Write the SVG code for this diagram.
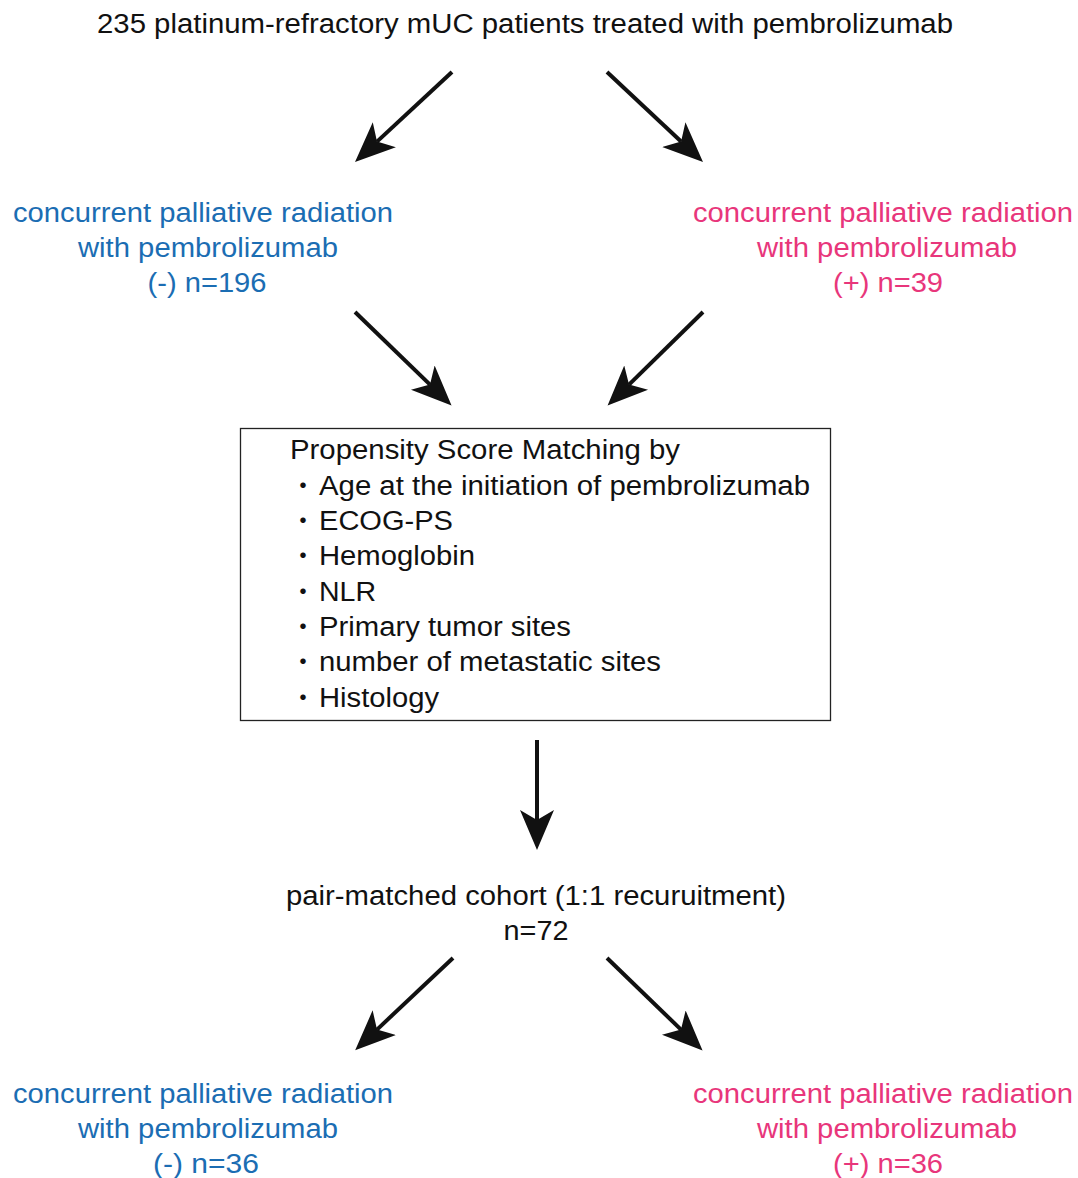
<svg xmlns="http://www.w3.org/2000/svg" width="1078" height="1178" viewBox="0 0 1078 1178">
  <style>
    text { font-family: "Liberation Sans", Arial, sans-serif; font-size: 27px; }
    .blk { fill: #111111; }
    .blue { fill: #1b6db3; text-anchor: middle; }
    .pink { fill: #e8367b; text-anchor: middle; }
    .ctr { text-anchor: middle; }
    .dot { font-family: "Noto Sans CJK JP", sans-serif; font-size: 26px; fill: #111111; }
    .conn { stroke: #111111; stroke-width: 4; fill: none; marker-end: url(#arrow); }
  </style>
  <defs>
    <marker id="arrow" markerUnits="userSpaceOnUse" markerWidth="42" markerHeight="36" viewBox="0 -18 42 36" refX="10" refY="0" orient="auto">
      <path d="M40,0 L0,-17 L10,0 L0,17 Z" fill="#111111"/>
    </marker>
  </defs>
  <rect width="1078" height="1178" fill="#ffffff"/>

  <g id="title">
    <text class="blk ctr" x="525" y="33" textLength="856" lengthAdjust="spacingAndGlyphs">235 platinum-refractory mUC patients treated with pembrolizumab</text>
  </g>

  <g id="no-radiation-196">
    <text class="blue" x="203" y="222" textLength="380" lengthAdjust="spacingAndGlyphs">concurrent palliative radiation</text>
    <text class="blue" x="208" y="257" textLength="260" lengthAdjust="spacingAndGlyphs">with pembrolizumab</text>
    <text class="blue" x="207" y="292" textLength="119" lengthAdjust="spacingAndGlyphs">(-) n=196</text>
  </g>

  <g id="radiation-39">
    <text class="pink" x="883" y="222" textLength="380" lengthAdjust="spacingAndGlyphs">concurrent palliative radiation</text>
    <text class="pink" x="887" y="257" textLength="260" lengthAdjust="spacingAndGlyphs">with pembrolizumab</text>
    <text class="pink" x="888" y="292" textLength="110" lengthAdjust="spacingAndGlyphs">(+) n=39</text>
  </g>

  <g id="psm-box">
    <rect x="240.5" y="428.5" width="590" height="292" fill="#ffffff" stroke="#222222" stroke-width="1.3"/>
    <text class="blk" x="290" y="459" textLength="390" lengthAdjust="spacingAndGlyphs">Propensity Score Matching by</text>
    <text class="dot" x="290" y="494.5">・</text>
    <text class="blk" x="319" y="494.5" textLength="491" lengthAdjust="spacingAndGlyphs">Age at the initiation of pembrolizumab</text>
    <text class="dot" x="290" y="530">・</text>
    <text class="blk" x="319" y="530" textLength="134" lengthAdjust="spacingAndGlyphs">ECOG-PS</text>
    <text class="dot" x="290" y="565">・</text>
    <text class="blk" x="319" y="565" textLength="156" lengthAdjust="spacingAndGlyphs">Hemoglobin</text>
    <text class="dot" x="290" y="600.5">・</text>
    <text class="blk" x="319" y="600.5" textLength="57" lengthAdjust="spacingAndGlyphs">NLR</text>
    <text class="dot" x="290" y="636">・</text>
    <text class="blk" x="319" y="636" textLength="252" lengthAdjust="spacingAndGlyphs">Primary tumor sites</text>
    <text class="dot" x="290" y="671">・</text>
    <text class="blk" x="319" y="671" textLength="342" lengthAdjust="spacingAndGlyphs">number of metastatic sites</text>
    <text class="dot" x="290" y="706.5">・</text>
    <text class="blk" x="319" y="706.5" textLength="120" lengthAdjust="spacingAndGlyphs">Histology</text>
  </g>

  <g id="matched-cohort">
    <text class="blk ctr" x="536" y="905" textLength="500" lengthAdjust="spacingAndGlyphs">pair-matched cohort (1:1 recuruitment)</text>
    <text class="blk ctr" x="536" y="940" textLength="65" lengthAdjust="spacingAndGlyphs">n=72</text>
  </g>

  <g id="no-radiation-36">
    <text class="blue" x="203" y="1103" textLength="380" lengthAdjust="spacingAndGlyphs">concurrent palliative radiation</text>
    <text class="blue" x="208" y="1138" textLength="260" lengthAdjust="spacingAndGlyphs">with pembrolizumab</text>
    <text class="blue" x="206" y="1173" textLength="106" lengthAdjust="spacingAndGlyphs">(-) n=36</text>
  </g>

  <g id="radiation-36">
    <text class="pink" x="883" y="1103" textLength="380" lengthAdjust="spacingAndGlyphs">concurrent palliative radiation</text>
    <text class="pink" x="887" y="1138" textLength="260" lengthAdjust="spacingAndGlyphs">with pembrolizumab</text>
    <text class="pink" x="888" y="1173" textLength="110" lengthAdjust="spacingAndGlyphs">(+) n=36</text>
  </g>

  <g id="connectors">
    <line class="conn" x1="452" y1="72" x2="377" y2="141.6"/>
    <line class="conn" x1="607" y1="72" x2="681.1" y2="141.5"/>
    <line class="conn" x1="355" y1="312" x2="430" y2="384.6"/>
    <line class="conn" x1="703" y1="312" x2="629" y2="384.6"/>
    <line class="conn" x1="537" y1="740" x2="537" y2="820"/>
    <line class="conn" x1="453" y1="958" x2="377" y2="1029.6"/>
    <line class="conn" x1="607" y1="958" x2="681" y2="1029.6"/>
  </g>
</svg>
